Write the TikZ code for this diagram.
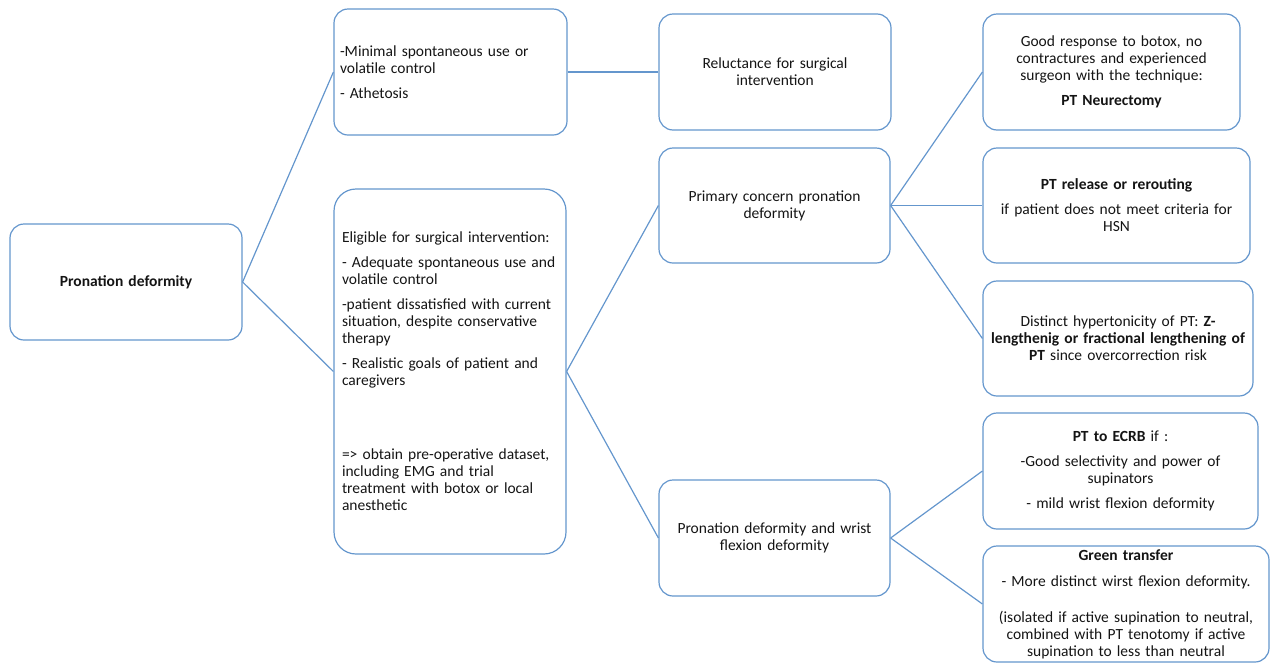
\documentclass[tikz,border=0pt]{standalone}
\usepackage{fontspec}
\setmainfont{Carlito}
\definecolor{boxline}{RGB}{100,150,205}
\definecolor{boxtext}{RGB}{20,20,20}
\begin{document}
\begin{tikzpicture}[x=1pt,y=-1pt,
  box/.style={draw=boxline,line width=1.2pt,rounded corners=14pt,text=boxtext,
    font=\fontsize{15.5}{17}\selectfont,inner sep=0pt},
  link/.style={draw=boxline,line width=1.2pt}]
\useasboundingbox (0,0) rectangle (1273,662);

\node[box,minimum width=232pt,minimum height=116pt,text width=220pt,align=center] (root) at (126,282) {\textbf{Pronation deformity}};

\node[box,minimum width=233pt,minimum height=126pt,text width=221pt,align=left] (poor) at (450.5,72)
  {-Minimal spontaneous use or\\volatile control\\[8pt]- Athetosis};
\node[box,rounded corners=22pt,minimum width=232pt,minimum height=365pt,text width=216pt,align=left] (eligible) at (450,371.5)
  {Eligible for surgical intervention:\\[8pt]- Adequate spontaneous use and\\volatile control\\[8pt]-patient dissatisfied with current\\situation, despite conservative\\therapy\\[8pt]- Realistic goals of patient and\\caregivers\\[57pt]=> obtain pre-operative dataset,\\including EMG and trial\\treatment with botox or local\\anesthetic};

\node[box,minimum width=232pt,minimum height=116pt,text width=220pt,align=center] (reluct) at (775,72)
  {Reluctance for surgical\\intervention};
\node[box,minimum width=231pt,minimum height=115pt,text width=220pt,align=center] (primary) at (774.5,205.5)
  {Primary concern pronation\\deformity};
\node[box,minimum width=231pt,minimum height=116pt,text width=220pt,align=center] (wrist) at (774.5,538)
  {Pronation deformity and wrist\\flexion deformity};

\node[box,minimum width=257pt,minimum height=116pt,text width=245pt,align=center] (neur) at (1111.5,72)
  {Good response to botox, no\\contractures and experienced\\surgeon with the technique:\\[8pt]\textbf{PT Neurectomy}};
\node[box,minimum width=267pt,minimum height=115pt,text width=255pt,align=center] (release) at (1116.5,205.5)
  {\textbf{PT release or rerouting}\\[8pt]if patient does not meet criteria for\\HSN};
\node[box,minimum width=270pt,minimum height=115pt,text width=264pt,align=center] (zlength) at (1118,338.5)
  {Distinct hypertonicity of PT: \textbf{Z-}\\\textbf{lengthenig or fractional lengthening of}\\\textbf{PT} since overcorrection risk};
\node[box,minimum width=275pt,minimum height=116pt,text width=263pt,align=center] (ecrb) at (1120.5,471)
  {\textbf{PT to ECRB} if :\\[8pt]-Good selectivity and power of\\supinators\\[8pt]- mild wrist flexion deformity};
\node[box,minimum width=286pt,minimum height=116pt,text width=274pt,align=center] (green) at (1126,604)
  {\textbf{Green transfer}\\[9pt]- More distinct wirst flexion deformity.\\[19pt](isolated if active supination to neutral,\\combined with PT tenotomy if active\\supination to less than neutral};

\draw[link] (root.east) -- (poor.west);
\draw[link] (root.east) -- (eligible.west);
\draw[link] (poor.east) -- (reluct.west);
\draw[link] (eligible.east) -- (primary.west);
\draw[link] (eligible.east) -- (wrist.west);
\draw[link] (primary.east) -- (neur.west);
\draw[link] (primary.east) -- (release.west);
\draw[link] (primary.east) -- (zlength.west);
\draw[link] (wrist.east) -- (ecrb.west);
\draw[link] (wrist.east) -- (green.west);
\end{tikzpicture}
\end{document}
